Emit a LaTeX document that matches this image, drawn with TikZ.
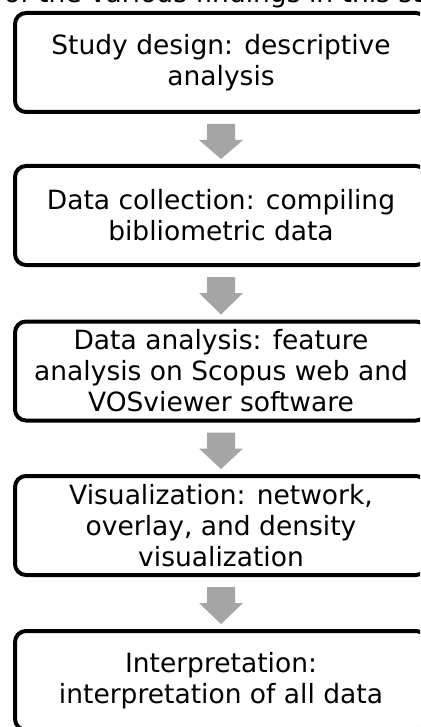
\documentclass[tikz,border=0pt]{standalone}
\usepackage{fontspec}
\setmainfont{DejaVu Sans}
\usetikzlibrary{calc}
\definecolor{arrowgray}{HTML}{A5A5A5}
\tikzset{
  stepbox/.style={draw=black, line width=4pt, rounded corners=11pt, fill=white,
    minimum width=412pt, minimum height=99pt, outer sep=0pt, inner sep=0pt,
    align=center, font=\fontsize{26.5}{31}\selectfont},
  blockarrow/.style={fill=arrowgray, draw=none}
}
\newcommand{\blockarr}[2]{%
  \fill[blockarrow] ($(#1.south)+(-14,12)$) -- ($(#1.south)+(14,12)$) -- ($(#1.south)+(14,28)$)
    -- ($(#1.south)+(22,28)$) -- ($(#2.north)+(0,-7)$) -- ($(#1.south)+(-22,28)$)
    -- ($(#1.south)+(-14,28)$) -- cycle;}
\begin{document}
\begin{tikzpicture}[x=1pt, y=-1pt]
  \useasboundingbox (0,0) rectangle (420,727);
  \clip (0,0) rectangle (420,727);
  \fill[white] (0,0) rectangle (420,727);
  \node[anchor=base west, inner sep=0pt, font=\fontsize{26.5}{31}\selectfont] (top) at (4,3) {of the various findings in this study};
  \node[stepbox] (b1) at (221,62.5) {Study design: descriptive\\analysis};
  \node[stepbox] (b2) at (221,215.5) {Data collection: compiling\\bibliometric data};
  \node[stepbox] (b3) at (221,371) {Data analysis: feature\\analysis on Scopus web and\\VOSviewer software};
  \node[stepbox] (b4) at (221,525.5) {Visualization: network,\\overlay, and density\\visualization};
  \node[stepbox] (b5) at (221,680.5) {Interpretation:\\interpretation of all data};
  \blockarr{b1}{b2}
  \blockarr{b2}{b3}
  \blockarr{b3}{b4}
  \blockarr{b4}{b5}
\end{tikzpicture}
\end{document}
